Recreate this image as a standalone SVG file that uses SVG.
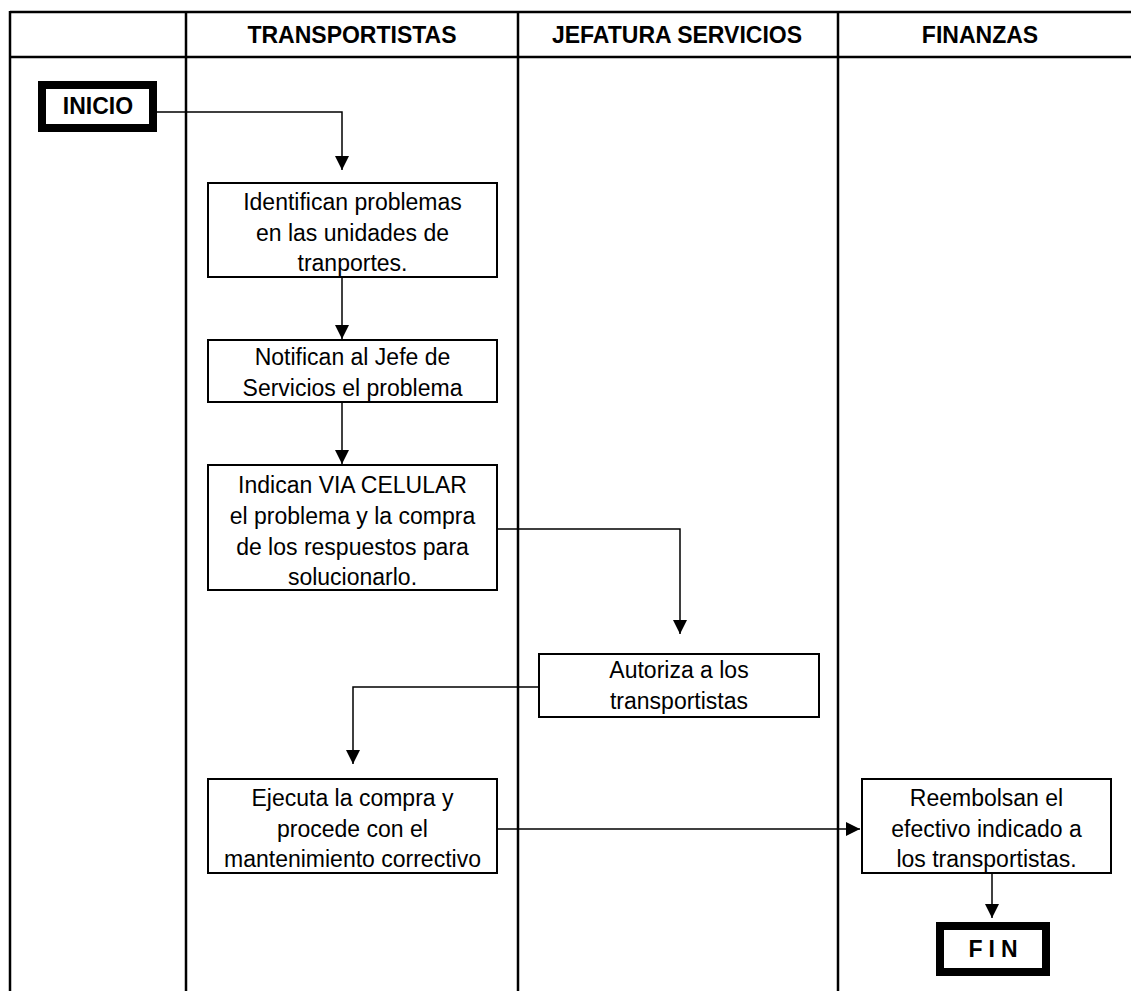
<svg xmlns="http://www.w3.org/2000/svg" width="1131" height="991" viewBox="0 0 1131 991">
<defs>
<style>
.lane{stroke:#000;stroke-width:2.5;fill:none}
.box{fill:#fff;stroke:#000;stroke-width:2}
.term{fill:#fff;stroke:#000;stroke-width:8}
.hd{font-family:"Liberation Sans",Arial,sans-serif;font-weight:bold;font-size:23px;text-anchor:middle;fill:#000}
.tx{font-family:"Liberation Sans",Arial,sans-serif;font-size:23px;text-anchor:middle;fill:#000}
.cn{stroke:#000;stroke-width:1.5;fill:none;marker-end:url(#ah)}
</style>
<marker id="ah" markerUnits="userSpaceOnUse" markerWidth="14" markerHeight="16" refX="14" refY="7" orient="auto" viewBox="0 0 14 14">
<path d="M0,0 L14,7 L0,14 Z" fill="#000"/>
</marker>
</defs>
<rect width="1131" height="991" fill="#fff"/>
<g id="lanes">
<line class="lane" x1="10" y1="12" x2="1131" y2="12"/>
<line class="lane" x1="10" y1="57" x2="1131" y2="57"/>
<line class="lane" x1="10" y1="11" x2="10" y2="991"/>
<line class="lane" x1="186" y1="11" x2="186" y2="991"/>
<line class="lane" x1="518" y1="11" x2="518" y2="991"/>
<line class="lane" x1="838" y1="11" x2="838" y2="991"/>
<text class="hd" x="352" y="43">TRANSPORTISTAS</text>
<text class="hd" x="677" y="43">JEFATURA SERVICIOS</text>
<text class="hd" x="980" y="43">FINANZAS</text>
</g>
<g id="connectors">
<path class="cn" d="M157,112 H342 V170"/>
<path class="cn" d="M342,277 V339"/>
<path class="cn" d="M342,402 V464"/>
<path class="cn" d="M497,529 H680 V634"/>
<path class="cn" d="M539,687 H353 V764"/>
<path class="cn" d="M497,829 H860"/>
<path class="cn" d="M992,873 V918"/>
</g>
<g id="inicio">
<rect class="term" x="42" y="85" width="111" height="43"/>
<text class="hd" x="98" y="114">INICIO</text>
</g>
<g id="identifican">
<rect class="box" x="208" y="183" width="289" height="94"/>
<text class="tx" x="352.5" y="210">Identifican problemas</text>
<text class="tx" x="352.5" y="241">en las unidades de</text>
<text class="tx" x="352.5" y="271">tranportes.</text>
</g>
<g id="notifican">
<rect class="box" x="208" y="340" width="289" height="62"/>
<text class="tx" x="352.5" y="365">Notifican al Jefe de</text>
<text class="tx" x="352.5" y="396">Servicios el problema</text>
</g>
<g id="indican">
<rect class="box" x="208" y="465" width="289" height="125"/>
<text class="tx" x="352.5" y="493">Indican VIA CELULAR</text>
<text class="tx" x="352.5" y="524">el problema y la compra</text>
<text class="tx" x="352.5" y="555">de los respuestos para</text>
<text class="tx" x="352.5" y="585">solucionarlo.</text>
</g>
<g id="autoriza">
<rect class="box" x="539" y="654" width="280" height="63"/>
<text class="tx" x="679" y="678">Autoriza a los</text>
<text class="tx" x="679" y="709">transportistas</text>
</g>
<g id="ejecuta">
<rect class="box" x="208" y="779" width="289" height="94"/>
<text class="tx" x="352.5" y="806">Ejecuta la compra y</text>
<text class="tx" x="352.5" y="837">procede con el</text>
<text class="tx" x="352.5" y="867">mantenimiento correctivo</text>
</g>
<g id="reembolsan">
<rect class="box" x="862" y="779" width="249" height="94"/>
<text class="tx" x="986.5" y="806">Reembolsan el</text>
<text class="tx" x="986.5" y="837">efectivo indicado a</text>
<text class="tx" x="986.5" y="867">los transportistas.</text>
</g>
<g id="fin">
<rect class="term" x="940" y="926" width="106" height="46"/>
<text class="hd" x="996" y="957" letter-spacing="6">FIN</text>
</g>
</svg>
